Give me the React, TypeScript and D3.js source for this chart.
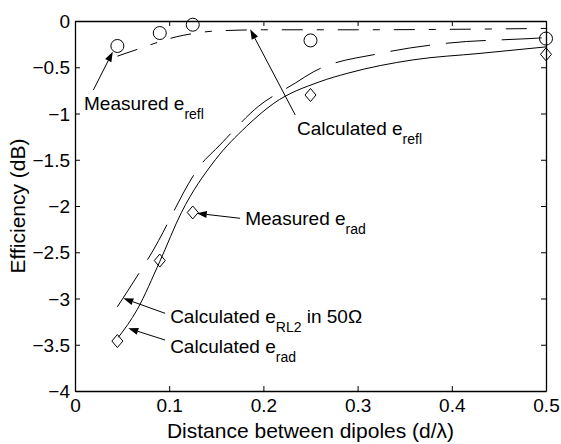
import { useEffect, useRef } from "react";
import * as d3 from "d3";

const W = 561;
const H = 444;
const margin = { top: 21, right: 15, bottom: 53, left: 75 };

const xTicks = [0, 0.1, 0.2, 0.3, 0.4, 0.5];
const yTicks = [0, -0.5, -1, -1.5, -2, -2.5, -3, -3.5, -4];

// measured points
const measX = [0.045, 0.09, 0.125, 0.25, 0.5];
const measReflY = [-0.27, -0.13, -0.04, -0.21, -0.19];
const measRadY = [-3.46, -2.59, -2.07, -0.8, -0.36];

// calculated curves
const calcReflX = [0.045, 0.068, 0.085, 0.108, 0.129, 0.149, 0.2, 0.3, 0.4, 0.5];
const calcReflY = [-0.38, -0.3, -0.24, -0.17, -0.13, -0.108, -0.095, -0.095, -0.09, -0.08];

const calcRadX = [0.046, 0.066, 0.09, 0.113, 0.149, 0.182, 0.211, 0.26, 0.289, 0.359, 0.43, 0.5];
const calcRadY = [-3.42, -3.12, -2.6, -2.07, -1.5, -1.14, -0.89, -0.656, -0.566, -0.42, -0.35, -0.28];

const calcRL2X = [0.045, 0.08, 0.138, 0.149, 0.195, 0.234, 0.253, 0.324, 0.395, 0.483, 0.5];
const calcRL2Y = [-3.09, -2.53, -1.5, -1.39, -0.92, -0.67, -0.55, -0.35, -0.24, -0.19, -0.18];

// annotations: text position and arrow (from -> tip), in data units
const notes = [
  { main: "Measured e", sub: "refl", tail: "", tx: 0.0096, ty: -0.962, ax: 0.0195, ay: -0.746, bx: 0.0401, by: -0.332 },
  { main: "Calculated e", sub: "refl", tail: "", tx: 0.2356, ty: -1.232, ax: 0.2338, ay: -1.016, bx: 0.186, by: -0.09 },
  { main: "Measured e", sub: "rad", tail: "", tx: 0.1807, ty: -2.205, ax: 0.1753, ay: -2.133, bx: 0.1293, by: -2.079 },
  { main: "Calculated e", sub: "RL2", tail: " in 50\u03A9", tx: 0.101, ty: -3.262, ax: 0.0956, ay: -3.16, bx: 0.0513, by: -2.998 },
  { main: "Calculated e", sub: "rad", tail: "", tx: 0.101, ty: -3.592, ax: 0.0956, ay: -3.449, bx: 0.0566, by: -3.322 },
];

const FONT = "'Liberation Sans', Arial, sans-serif";

export default function App() {
  const ref = useRef<SVGSVGElement>(null);

  useEffect(() => {
    const svg = d3.select(ref.current);
    svg.selectAll("*").remove();

    const x = d3.scaleLinear().domain([0, 0.5]).range([margin.left, W - margin.right]);
    const y = d3.scaleLinear().domain([-4, 0]).range([H - margin.bottom, margin.top]);

    svg.append("rect").attr("width", W).attr("height", H).attr("fill", "#fff");

    // axes box with inward ticks on all sides
    const bottom = svg.append("g")
      .attr("transform", `translate(0,${H - margin.bottom})`)
      .call(d3.axisBottom(x).tickValues(xTicks).tickSizeInner(-5).tickSizeOuter(0).tickPadding(8).tickFormat(d3.format("")));
    const top = svg.append("g")
      .attr("transform", `translate(0,${margin.top})`)
      .call(d3.axisTop(x).tickValues(xTicks).tickSizeInner(-5).tickSizeOuter(0).tickFormat(() => ""));
    const left = svg.append("g")
      .attr("transform", `translate(${margin.left},0)`)
      .call(d3.axisLeft(y).tickValues(yTicks).tickSizeInner(-5).tickSizeOuter(0).tickPadding(5).tickFormat(d3.format("")));
    const right = svg.append("g")
      .attr("transform", `translate(${W - margin.right},0)`)
      .call(d3.axisRight(y).tickValues(yTicks).tickSizeInner(-5).tickSizeOuter(0).tickFormat(() => ""));

    [bottom, top, left, right].forEach(g => {
      g.select(".domain").attr("stroke", "#000").attr("stroke-width", 1.3);
      g.selectAll(".tick line").attr("stroke", "#000").attr("stroke-width", 1);
      g.selectAll("text").attr("font-family", FONT).attr("font-size", 19).attr("fill", "#000");
    });
    bottom.selectAll(".tick text").attr("dy", "0.71em");
    left.selectAll(".tick text").attr("dy", "0.35em");

    // curves
    const line = d3.line<[number, number]>()
      .x(d => x(d[0]))
      .y(d => y(d[1]))
      .curve(d3.curveMonotoneX);

    const curves = [
      { xs: calcReflX, ys: calcReflY, dash: "21,14,7,14" },
      { xs: calcRL2X, ys: calcRL2Y, dash: "40,16" },
      { xs: calcRadX, ys: calcRadY, dash: null },
    ];
    curves.forEach(c => {
      const pts = c.xs.map((v, i) => [v, c.ys[i]] as [number, number]);
      svg.append("path")
        .attr("d", line(pts))
        .attr("fill", "none")
        .attr("stroke", "#000")
        .attr("stroke-width", 1)
        .attr("stroke-dasharray", c.dash);
    });

    // markers
    svg.append("g").selectAll("circle")
      .data(measX.map((v, i) => [v, measReflY[i]]))
      .enter().append("circle")
      .attr("cx", d => x(d[0]))
      .attr("cy", d => y(d[1]))
      .attr("r", 6.5)
      .attr("fill", "none")
      .attr("stroke", "#000")
      .attr("stroke-width", 1);

    svg.append("g").selectAll("path")
      .data(measX.map((v, i) => [v, measRadY[i]]))
      .enter().append("path")
      .attr("d", d => {
        const cx = x(d[0]), cy = y(d[1]);
        return `M${cx},${cy - 6.5}L${cx + 5.5},${cy}L${cx},${cy + 6.5}L${cx - 5.5},${cy}Z`;
      })
      .attr("fill", "none")
      .attr("stroke", "#000")
      .attr("stroke-width", 1);

    // annotations
    notes.forEach(n => {
      const x1 = x(n.ax), y1 = y(n.ay), x2 = x(n.bx), y2 = y(n.by);
      const ang = Math.atan2(y2 - y1, x2 - x1);
      const len = 10, hw = 3.5;
      const bxp = x2 - len * Math.cos(ang), byp = y2 - len * Math.sin(ang);
      svg.append("line")
        .attr("x1", x1).attr("y1", y1).attr("x2", bxp).attr("y2", byp)
        .attr("stroke", "#000").attr("stroke-width", 1);
      svg.append("path")
        .attr("d", `M${x2},${y2}L${bxp - hw * Math.sin(ang)},${byp + hw * Math.cos(ang)}L${bxp + hw * Math.sin(ang)},${byp - hw * Math.cos(ang)}Z`)
        .attr("fill", "#000");

      const t = svg.append("text")
        .attr("x", x(n.tx))
        .attr("y", y(n.ty))
        .attr("font-family", FONT)
        .attr("font-size", 19)
        .attr("fill", "#000");
      t.append("tspan").text(n.main);
      t.append("tspan").attr("font-size", 14).attr("dy", 9).text(n.sub);
      if (n.tail) t.append("tspan").attr("dy", -9).text(n.tail);
    });

    // axis titles
    svg.append("text")
      .attr("x", x(0.25))
      .attr("y", H - 6)
      .attr("text-anchor", "middle")
      .attr("font-family", FONT)
      .attr("font-size", 21)
      .attr("fill", "#000")
      .text("Distance between dipoles (d/\u03BB)");

    svg.append("text")
      .attr("transform", `translate(25,${y(-2)}) rotate(-90)`)
      .attr("text-anchor", "middle")
      .attr("font-family", FONT)
      .attr("font-size", 21)
      .attr("fill", "#000")
      .text("Efficiency (dB)");
  }, []);

  return (
    <svg
      ref={ref}
      width={W}
      height={H}
      style={{ position: "absolute", left: 0, top: 0, display: "block" }}
    />
  );
}
